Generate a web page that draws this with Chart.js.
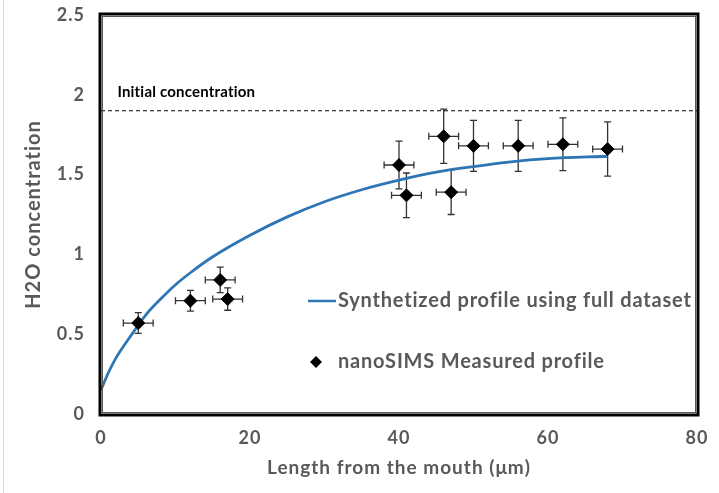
<!DOCTYPE html>
<html>
<head>
<meta charset="utf-8">
<script src="https://cdn.jsdelivr.net/npm/chart.js@4/dist/chart.umd.min.js"></script>
<style>
  body { margin: 0; background: #fff; }
  #wrap { width: 719px; height: 493px; }
</style>
</head>
<body>
<div id="wrap"><canvas id="profile" width="719" height="493"></canvas></div>
<script>
// synthetic profile (fit)
var profileX = [0, 1, 2, 4, 6, 8, 10, 12, 15, 20, 25, 30, 35, 40, 45, 50, 55, 60, 68];
var profileY = [0.15, 0.26, 0.35, 0.49, 0.62, 0.72, 0.81, 0.885, 0.985, 1.12, 1.235, 1.33, 1.405, 1.465, 1.515, 1.55, 1.58, 1.60, 1.615];

// nanoSIMS points + errors
var measX = [5, 12, 16, 17, 40, 41, 46, 47, 50, 56, 62, 68];
var measY = [0.57, 0.71, 0.84, 0.72, 1.56, 1.37, 1.74, 1.39, 1.68, 1.68, 1.69, 1.66];
var measXErr = [2, 2, 2, 2, 2, 2, 2, 2, 2, 2, 2, 2];
var measYErr = [0.065, 0.065, 0.08, 0.07, 0.15, 0.14, 0.17, 0.14, 0.16, 0.16, 0.165, 0.17];

var initialLevel = 1.9;
var xTicks = [0, 20, 40, 60, 80];
var yTicks = [0, 0.5, 1, 1.5, 2, 2.5];

var labels = ['nanoSIMS Measured profile', 'Synthetized profile using full dataset', 'Initial concentration'];

var grey = '#595959';
var blue = '#2e75b6';
var fontName = 'Lato';

function pts(xs, ys) {
  var out = [];
  for (var i = 0; i < xs.length; i++) out.push({x: xs[i], y: ys[i]});
  return out;
}

var errorBars = {
  id: 'errorBars',
  beforeDatasetsDraw: function(chart) {
    var ctx = chart.ctx;
    var xs = chart.scales.x, ys = chart.scales.y;
    var cap = 3.5;
    ctx.save();
    ctx.strokeStyle = '#333';
    ctx.lineWidth = 1.3;
    for (var i = 0; i < measX.length; i++) {
      var px = xs.getPixelForValue(measX[i]);
      var py = ys.getPixelForValue(measY[i]);
      var x0 = xs.getPixelForValue(measX[i] - measXErr[i]);
      var x1 = xs.getPixelForValue(measX[i] + measXErr[i]);
      var y0 = ys.getPixelForValue(measY[i] - measYErr[i]);
      var y1 = ys.getPixelForValue(measY[i] + measYErr[i]);
      ctx.beginPath();
      ctx.moveTo(x0, py); ctx.lineTo(x1, py);
      ctx.moveTo(x0, py - cap); ctx.lineTo(x0, py + cap);
      ctx.moveTo(x1, py - cap); ctx.lineTo(x1, py + cap);
      ctx.moveTo(px, y0); ctx.lineTo(px, y1);
      ctx.moveTo(px - cap, y0); ctx.lineTo(px + cap, y0);
      ctx.moveTo(px - cap, y1); ctx.lineTo(px + cap, y1);
      ctx.stroke();
    }
    ctx.restore();
  }
};

// a bit of tracking on axis text, closer to the wide Office look
var spacing = {
  id: 'spacing',
  beforeDraw: function(chart) { chart.ctx.letterSpacing = '1px'; },
  afterDraw: function(chart) { chart.ctx.letterSpacing = '0px'; }
};

var frameAndNotes = {
  id: 'frameAndNotes',
  afterDraw: function(chart) {
    var ctx = chart.ctx;
    var a = chart.chartArea;
    var ys = chart.scales.y, xs = chart.scales.x;
    ctx.save();

    // faint page edge on the left
    ctx.strokeStyle = '#d9d9d9';
    ctx.lineWidth = 1;
    ctx.beginPath();
    ctx.moveTo(3.5, 0); ctx.lineTo(3.5, chart.height);
    ctx.stroke();

    // double frame round the plot
    ctx.strokeStyle = '#000';
    ctx.lineWidth = 3;
    ctx.strokeRect(a.left - 1, a.top - 1, a.right - a.left + 2, a.bottom - a.top + 2);
    ctx.lineWidth = 1;
    ctx.strokeStyle = '#555';
    ctx.strokeRect(a.left + 1.5, a.top + 1.5, a.right - a.left - 3, a.bottom - a.top - 3);

    // dashed line note
    ctx.fillStyle = '#000';
    ctx.letterSpacing = '0.2px';
    ctx.font = 'bold 15px ' + fontName;
    ctx.textBaseline = 'alphabetic';
    ctx.fillText(labels[2], xs.getPixelForValue(2.2), ys.getPixelForValue(initialLevel) - 14);

    // legend inside the plot
    ctx.letterSpacing = '0.8px';
    ctx.font = 'bold 20px ' + fontName;
    ctx.fillStyle = grey;
    ctx.textBaseline = 'middle';
    var lx = 308, ly1 = 301, ly2 = 362;
    ctx.strokeStyle = blue;
    ctx.lineWidth = 2.5;
    ctx.beginPath();
    ctx.moveTo(lx, ly1); ctx.lineTo(lx + 28, ly1);
    ctx.stroke();
    ctx.fillText(labels[1], lx + 30, ly1);

    ctx.fillStyle = '#000';
    ctx.beginPath();
    ctx.moveTo(lx + 8, ly2 - 6); ctx.lineTo(lx + 14, ly2);
    ctx.lineTo(lx + 8, ly2 + 6); ctx.lineTo(lx + 2, ly2);
    ctx.closePath();
    ctx.fill();
    ctx.fillStyle = grey;
    ctx.fillText(labels[0], lx + 30, ly2);
    ctx.restore();
  }
};

var ctx = document.getElementById('profile');
new Chart(ctx, {
  type: 'scatter',
  data: {
    datasets: [
      {
        label: labels[0],
        data: pts(measX, measY),
        pointStyle: 'rectRot',
        pointRadius: 6.5,
        pointHoverRadius: 6.5,
        backgroundColor: '#000',
        borderColor: '#000'
      },
      {
        label: labels[1],
        type: 'line',
        data: pts(profileX, profileY),
        showLine: true,
        pointRadius: 0,
        borderColor: blue,
        borderWidth: 2.8,
        cubicInterpolationMode: 'monotone',
        fill: false
      },
      {
        label: labels[2],
        type: 'line',
        data: [{x: 0, y: initialLevel}, {x: 80, y: initialLevel}],
        showLine: true,
        pointRadius: 0,
        borderColor: '#000',
        borderWidth: 1,
        borderDash: [4, 3],
        fill: false
      }
    ]
  },
  options: {
    responsive: false,
    animation: false,
    layout: { padding: { top: 15, right: 22 } },
    plugins: {
      legend: { display: false },
      tooltip: { enabled: false }
    },
    scales: {
      x: {
        type: 'linear',
        min: 0,
        max: 80,
        afterBuildTicks: function(s) { s.ticks = xTicks.map(function(v) { return {value: v}; }); },
        afterFit: function(s) {
          s.height = 79;
          s.paddingLeft = 0;
          s.paddingRight = 0;
        },
        grid: { display: false, drawTicks: false },
        border: { display: false },
        ticks: {
          color: grey,
          padding: 13,
          font: { family: fontName, size: 18, weight: 'bold' },
          callback: function(v) { return String(v); }
        },
        title: {
          display: true,
          text: 'Length from the mouth (μm)',
          color: grey,
          padding: { top: 0, bottom: 14 },
          font: { family: fontName, size: 19, weight: 'bold' }
        }
      },
      y: {
        type: 'linear',
        min: 0,
        max: 2.5,
        afterBuildTicks: function(s) { s.ticks = yTicks.map(function(v) { return {value: v}; }); },
        afterFit: function(s) {
          s.width = 101;
          s.paddingTop = 0;
          s.paddingBottom = 0;
        },
        grid: { display: false, drawTicks: false },
        border: { display: false },
        ticks: {
          color: grey,
          padding: 16,
          font: { family: fontName, size: 18, weight: 'bold' },
          callback: function(v) { return String(v); }
        },
        title: {
          display: true,
          text: 'H2O concentration',
          color: grey,
          padding: { top: 22 },
          font: { family: fontName, size: 20, weight: 'bold' }
        }
      }
    }
  },
  plugins: [spacing, errorBars, frameAndNotes]
});
</script>
</body>
</html>
